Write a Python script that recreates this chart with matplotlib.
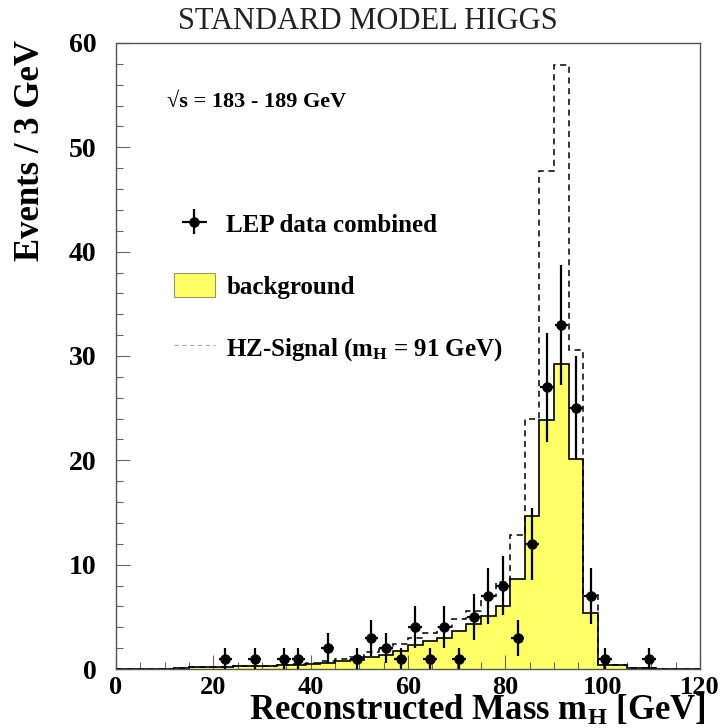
import numpy as np
import matplotlib
matplotlib.use('Agg')
import matplotlib.pyplot as plt
from matplotlib.patches import Patch
from matplotlib.lines import Line2D
from matplotlib.ticker import MultipleLocator

plt.rcParams['font.family'] = ['Liberation Serif', 'DejaVu Serif']
plt.rcParams['mathtext.fontset'] = 'custom'
plt.rcParams['mathtext.rm'] = 'Liberation Serif:bold'
plt.rcParams['mathtext.bf'] = 'Liberation Serif:bold'
plt.rcParams['mathtext.it'] = 'Liberation Serif:bold'

# 3 GeV bins from 0 to 120
edges = np.arange(0, 121, 3)

# expected background per bin
background = [0.0, 0.0, 0.02, 0.05, 0.1, 0.15, 0.2, 0.22, 0.25, 0.28,
              0.3, 0.35, 0.4, 0.5, 0.6, 0.75, 0.9, 1.15, 1.3, 1.75,
              2.3, 2.7, 3.0, 3.6, 4.3, 5.1, 6.0, 8.6, 14.7, 23.9,
              29.2, 20.1, 5.4, 0.4, 0.35, 0.08, 0.06, 0.05, 0.04, 0.03]

# background + HZ signal (m_H = 91 GeV)
signal_total = [0.0, 0.0, 0.02, 0.05, 0.1, 0.15, 0.2, 0.22, 0.25, 0.28,
                0.3, 0.35, 0.45, 0.6, 0.75, 1.0, 1.2, 1.6, 1.9, 2.4,
                3.0, 3.5, 4.0, 4.8, 5.6, 7.0, 8.3, 12.85, 24.0, 47.7,
                57.9, 30.6, 7.1, 0.5, 0.4, 0.08, 0.06, 0.05, 0.04, 0.03]

# observed events (non-empty bins)
data_mass = [22.5, 28.5, 34.5, 37.5, 43.5, 49.5, 52.5, 55.5, 58.5, 61.5,
             64.5, 67.5, 70.5, 73.5, 76.5, 79.5, 82.5, 85.5, 88.5, 91.5,
             94.5, 97.5, 100.5, 109.5]
data_events = [1, 1, 1, 1, 2, 1, 3, 2, 1, 4,
               1, 4, 1, 5, 7, 8, 3, 12, 27, 33,
               25, 7, 1, 1]

fig = plt.figure(figsize=(7.24, 7.28), dpi=100)
ax = fig.add_axes([0.160, 0.081, 0.807, 0.860])

ax.stairs(background, edges, fill=True, color='#ffff66', zorder=1)
ax.stairs(background, edges, color='black', lw=1.2, zorder=2)
ax.stairs(signal_total, edges, color='black', lw=1.1, ls=(0, (4, 3)), zorder=2)

yerr = np.sqrt(np.array(data_events, dtype=float))
data_eb = ax.errorbar(data_mass, data_events, yerr=yerr, xerr=1.4, fmt='o',
                      color='black', ms=6.5, elinewidth=1.6, capsize=0,
                      zorder=3)

ax.set_xlim(0, 120)
ax.set_ylim(0, 60)
ax.xaxis.set_major_locator(MultipleLocator(20))
ax.xaxis.set_minor_locator(MultipleLocator(5))
ax.yaxis.set_major_locator(MultipleLocator(10))
ax.yaxis.set_minor_locator(MultipleLocator(2))
ax.tick_params(which='both', direction='in', color='#666666', width=0.8)
ax.tick_params(which='major', length=10)
ax.tick_params(which='minor', length=5)
ax.tick_params(axis='y', pad=14)
ax.tick_params(axis='x', pad=5)
for lab in ax.get_yticklabels():
    lab.set_fontsize(20)
    lab.set_fontweight('bold')
for lab in ax.get_xticklabels():
    lab.set_fontsize(19)
    lab.set_fontweight('bold')
for sp in ax.spines.values():
    sp.set_color('#555555')
    sp.set_linewidth(1.0)

ax.set_xlabel(r'Reconstructed Mass $\mathbf{m_H}$ [GeV]', fontsize=25,
              fontweight='bold', ha='right')
ax.xaxis.set_label_coords(1.01, -0.04)
ax.set_ylabel('Events / 3 GeV', fontsize=25, fontweight='bold', ha='right')
ax.yaxis.set_label_coords(-0.117, 1.005)

fig.text(0.508, 0.971, 'STANDARD MODEL HIGGS', fontsize=22,
         ha='center', va='center', color='#222222')

ax.text(0.088, 0.905, '√s = 183 - 189 GeV', transform=ax.transAxes,
        fontsize=16, fontweight='bold', va='center')

handles = [
    data_eb,
    Patch(facecolor='#ffff66', edgecolor='#999966', lw=0.8),
    Line2D([], [], color='#aaaaaa', lw=0.8, ls=(0, (4, 3))),
]
labels = ['LEP data combined', 'background',
          r'HZ-Signal ($\mathbf{m_H}$ = 91 GeV)']
leg = ax.legend(handles, labels, loc='upper left', bbox_to_anchor=(0.082, 0.747),
                frameon=False, prop={'size': 18, 'weight': 'bold'},
                labelspacing=1.45, handlelength=1.65, handleheight=1.1,
                handletextpad=0.45, borderaxespad=0)

fig.savefig('out.png', dpi=100)
